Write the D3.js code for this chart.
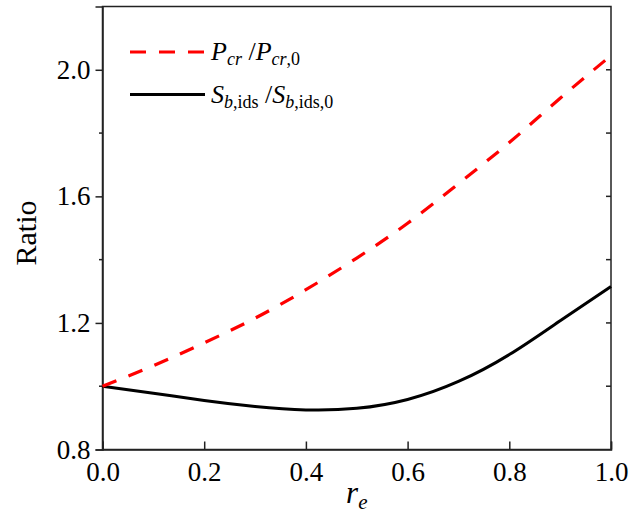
<!DOCTYPE html>
<html>
<head>
<meta charset="utf-8">
<script src="https://cdn.jsdelivr.net/npm/d3@7.9.0/dist/d3.min.js"></script>
<style>
  body { margin: 0; background: #fff; }
  svg { display: block; font-family: "Liberation Serif", "Times New Roman", serif; }
</style>
</head>
<body>
<svg width="629" height="525"></svg>
<script>
// values
const re = [0.0, 0.1, 0.2, 0.3, 0.4, 0.5, 0.6, 0.7, 0.8, 0.9, 1.0];
const pcrRatio = [1.000, 1.065, 1.137, 1.215, 1.305, 1.405, 1.515, 1.640, 1.770, 1.910, 2.045];
const sbRatio = [1.000, 0.978, 0.955, 0.936, 0.925, 0.930, 0.958, 1.015, 1.100, 1.207, 1.315];

const xTicks = [0.0, 0.2, 0.4, 0.6, 0.8, 1.0];
const yTicks = [0.8, 1.2, 1.6, 2.0];
const yMinor = [1.0, 1.4, 1.8];
const rightTicks = [1.0, 1.2, 1.4, 1.6, 1.8, 2.0];

const svg = d3.select('svg');
const plotL = 102.5, plotR = 611, plotT = 6.5, plotB = 449.5;
const serif = '"Liberation Serif", "Times New Roman", serif';

const x = d3.scaleLinear().domain([0, 1]).range([plotL, plotR]);
const y = d3.scaleLinear().domain([0.8, 2.2]).range([plotB, plotT]);

const axisColor = '#222';

// bottom axis, ticks pointing in
const gx = svg.append('g')
  .attr('transform', `translate(0,${plotB})`)
  .call(d3.axisBottom(x).tickValues(xTicks).tickFormat(d3.format('.1f'))
    .tickSize(-8).tickPadding(12));
gx.attr('font-family', serif).attr('font-size', 27);
gx.selectAll('text').attr('font-family', serif).attr('font-size', 27).attr('fill', '#000');

// left axis, ticks pointing out
const gy = svg.append('g')
  .attr('transform', `translate(${plotL},0)`)
  .call(d3.axisLeft(y).tickValues(yTicks).tickFormat(d3.format('.1f'))
    .tickSize(7).tickPadding(5));
gy.attr('font-family', serif).attr('font-size', 27);
gy.selectAll('text').attr('font-family', serif).attr('font-size', 27).attr('fill', '#000');

// minor left ticks
svg.append('g').selectAll('line')
  .data(yMinor)
  .join('line')
  .attr('x1', plotL - 3.5).attr('x2', plotL)
  .attr('y1', d => y(d)).attr('y2', d => y(d))
  .attr('stroke', axisColor).attr('stroke-width', 1.5);

// right axis ticks pointing in
svg.append('g').selectAll('line')
  .data(rightTicks)
  .join('line')
  .attr('x1', plotR - 5).attr('x2', plotR)
  .attr('y1', d => y(d)).attr('y2', d => y(d))
  .attr('stroke', axisColor).attr('stroke-width', 1.5);

// frame
svg.append('rect')
  .attr('x', plotL).attr('y', plotT)
  .attr('width', plotR - plotL).attr('height', plotB - plotT)
  .attr('fill', 'none').attr('stroke', axisColor).attr('stroke-width', 1.5);

svg.selectAll('.domain').attr('stroke', axisColor).attr('stroke-width', 1.5);
svg.selectAll('.tick line').attr('stroke', axisColor).attr('stroke-width', 1.5);

// curves
const line = d3.line().x(d => x(d[0])).y(d => y(d[1])).curve(d3.curveNatural);

svg.append('path')
  .datum(re.map((r, i) => [r, sbRatio[i]]))
  .attr('d', line)
  .attr('fill', 'none').attr('stroke', '#000').attr('stroke-width', 3);

svg.append('path')
  .datum(re.map((r, i) => [r, pcrRatio[i]]))
  .attr('d', line)
  .attr('fill', 'none').attr('stroke', '#ff0000').attr('stroke-width', 3.2)
  .attr('stroke-dasharray', '15,13');

// legend
const legend = svg.append('g');
legend.append('line')
  .attr('x1', 130).attr('x2', 205).attr('y1', 52).attr('y2', 52)
  .attr('stroke', '#ff0000').attr('stroke-width', 3.2).attr('stroke-dasharray', '16,13');
legend.append('line')
  .attr('x1', 130).attr('x2', 205).attr('y1', 94.5).attr('y2', 94.5)
  .attr('stroke', '#000').attr('stroke-width', 3);

function addLabel(yPos, parts) {
  const t = legend.append('text').attr('x', 211).attr('y', yPos).attr('font-size', 26);
  parts.forEach(p => {
    t.append('tspan')
      .attr('font-style', p.it ? 'italic' : 'normal')
      .attr('font-size', p.sub ? 18 : 26)
      .attr('baseline-shift', p.sub ? '-5px' : null)
      .text(p.s);
  });
}
addLabel(60, [
  { s: 'P', it: true }, { s: 'cr', it: true, sub: true },
  { s: ' /' }, { s: 'P', it: true }, { s: 'cr', it: true, sub: true },
  { s: ',0', sub: true }
]);
addLabel(103, [
  { s: 'S', it: true }, { s: 'b', it: true, sub: true }, { s: ',ids', sub: true },
  { s: ' /' }, { s: 'S', it: true }, { s: 'b', it: true, sub: true },
  { s: ',ids,0', sub: true }
]);

// axis titles
svg.append('text')
  .attr('transform', `translate(36,${(plotT + plotB) / 2 + 5}) rotate(-90)`)
  .attr('text-anchor', 'middle')
  .attr('font-size', 30)
  .text('Ratio');

const xt = svg.append('text')
  .attr('x', (plotL + plotR) / 2).attr('y', 503)
  .attr('text-anchor', 'middle')
  .attr('font-size', 31);
xt.append('tspan').attr('font-style', 'italic').text('r');
xt.append('tspan').attr('font-style', 'italic').attr('font-size', 21)
  .attr('baseline-shift', '-6px').text('e');
</script>
</body>
</html>
